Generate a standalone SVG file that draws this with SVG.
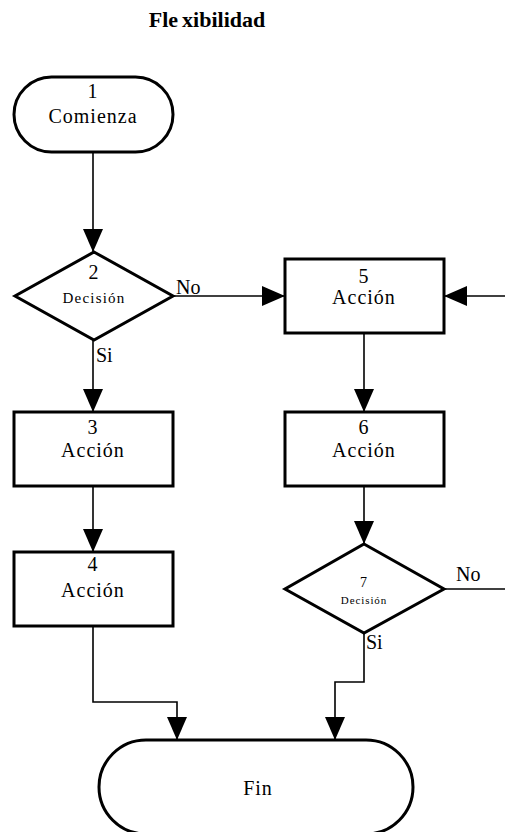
<svg xmlns="http://www.w3.org/2000/svg" width="505" height="832" viewBox="0 0 505 832">
  <style>
    text { font-family: "Liberation Serif", "Times New Roman", serif; fill: #000; text-anchor: middle; }
    .title { font-size: 22px; font-weight: bold; }
    .lbl { font-size: 20px; letter-spacing: 1px; }
    .small { font-size: 15px; letter-spacing: 1.2px; }
    .tiny { font-size: 11px; letter-spacing: 0.9px; }
    .edge { font-size: 20px; text-anchor: start; }
    .shape { fill: #fff; stroke: #000; stroke-width: 3; }
    .conn { fill: none; stroke: #000; stroke-width: 1.6; }
  </style>
  <defs>
    <marker id="arrow" viewBox="0 0 23 20" refX="23" refY="10" markerWidth="23" markerHeight="20" markerUnits="userSpaceOnUse" orient="auto">
      <path d="M0,0 L23,10 L0,20 Z" fill="#000"/>
    </marker>
  </defs>

  <text class="title" x="207" y="27">Fle<tspan dx="4">xibilidad</tspan></text>

  <g id="connectors">
    <path class="conn" d="M93,152 V252" marker-end="url(#arrow)"/>
    <path class="conn" d="M173,296 H285" marker-end="url(#arrow)"/>
    <path class="conn" d="M505,296 H444" marker-end="url(#arrow)"/>
    <path class="conn" d="M93,340 V412" marker-end="url(#arrow)"/>
    <path class="conn" d="M93,486 V552" marker-end="url(#arrow)"/>
    <path class="conn" d="M364,333 V412" marker-end="url(#arrow)"/>
    <path class="conn" d="M364,486 V544" marker-end="url(#arrow)"/>
    <path class="conn" d="M444,589 H505"/>
    <path class="conn" d="M93,626 V702 H177 V740" marker-end="url(#arrow)"/>
    <path class="conn" d="M364,633 V682 H335 V740" marker-end="url(#arrow)"/>
    <text class="edge" x="176" y="294">No</text>
    <text class="edge" x="96" y="362">Si</text>
    <text class="edge" x="456" y="581">No</text>
    <text class="edge" x="366" y="649">Si</text>
  </g>

  <g id="n1">
    <rect class="shape" x="14" y="77" width="159" height="75" rx="37.5"/>
    <text class="lbl" x="93" y="98">1</text>
    <text class="lbl" x="93" y="123">Comienza</text>
  </g>

  <g id="n2">
    <path class="shape" d="M94,252 L173,296 L94,340 L15,296 Z"/>
    <text class="lbl" x="94" y="279">2</text>
    <text class="small" x="94" y="303">Decisión</text>
  </g>

  <g id="n3">
    <rect class="shape" x="14" y="412" width="159" height="74"/>
    <text class="lbl" x="93" y="434">3</text>
    <text class="lbl" x="93" y="457">Acción</text>
  </g>

  <g id="n4">
    <rect class="shape" x="14" y="552" width="159" height="74"/>
    <text class="lbl" x="93" y="571">4</text>
    <text class="lbl" x="93" y="597">Acción</text>
  </g>

  <g id="n5">
    <rect class="shape" x="285" y="259" width="159" height="74"/>
    <text class="lbl" x="364" y="283">5</text>
    <text class="lbl" x="364" y="304">Acción</text>
  </g>

  <g id="n6">
    <rect class="shape" x="285" y="412" width="159" height="74"/>
    <text class="lbl" x="364" y="434">6</text>
    <text class="lbl" x="364" y="457">Acción</text>
  </g>

  <g id="n7">
    <path class="shape" d="M364,544 L444,589 L364,633 L285,589 Z"/>
    <text class="lbl" x="364" y="587" style="font-size:14px">7</text>
    <text class="tiny" x="364" y="604">Decisión</text>
  </g>

  <g id="n8">
    <rect class="shape" x="99" y="740" width="314" height="94" rx="47"/>
    <text class="lbl" x="258" y="795">Fin</text>
  </g>
</svg>
